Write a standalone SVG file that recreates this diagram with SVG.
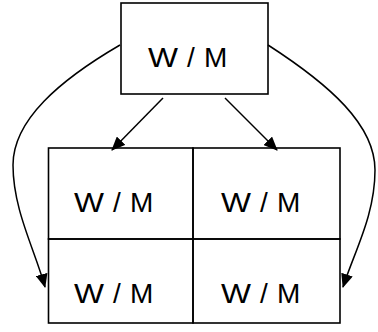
<svg xmlns="http://www.w3.org/2000/svg" width="378" height="332" viewBox="0 0 378 332">
<style>
.box{fill:none;stroke:#000;stroke-width:1.6}
.lbl{font-family:"Liberation Sans",Arial,sans-serif;font-size:28px;fill:#000}
.con{fill:none;stroke:#000;stroke-width:1.5}
</style>
<defs>
<marker id="ah" markerUnits="userSpaceOnUse" markerWidth="14" markerHeight="12" viewBox="0 0 14 12" refX="13" refY="6" orient="auto">
<path d="M0,0 L14,6 L0,12 Z" fill="#000"/>
</marker>
</defs>
<rect width="378" height="332" fill="#fff"/>
<g id="top">
<rect class="box" x="121" y="3" width="147" height="91"/>
<text class="lbl" y="67"><tspan x="148" textLength="30" lengthAdjust="spacingAndGlyphs">W</tspan><tspan x="187">/</tspan><tspan x="204">M</tspan></text>
</g>
<g id="cell-tl">
<rect class="box" x="48.5" y="148" width="144.5" height="91"/>
<text class="lbl" y="212"><tspan x="74" textLength="30" lengthAdjust="spacingAndGlyphs">W</tspan><tspan x="113">/</tspan><tspan x="130">M</tspan></text>
</g>
<g id="cell-tr">
<rect class="box" x="193" y="148" width="147" height="91"/>
<text class="lbl" y="212"><tspan x="221" textLength="30" lengthAdjust="spacingAndGlyphs">W</tspan><tspan x="260">/</tspan><tspan x="277">M</tspan></text>
</g>
<g id="cell-bl">
<rect class="box" x="48.5" y="239" width="144.5" height="84"/>
<text class="lbl" y="303"><tspan x="74" textLength="30" lengthAdjust="spacingAndGlyphs">W</tspan><tspan x="113">/</tspan><tspan x="130">M</tspan></text>
</g>
<g id="cell-br">
<rect class="box" x="193" y="239" width="147" height="84"/>
<text class="lbl" y="303"><tspan x="221" textLength="30" lengthAdjust="spacingAndGlyphs">W</tspan><tspan x="260">/</tspan><tspan x="277">M</tspan></text>
</g>
<g id="connectors">
<path class="con" marker-end="url(#ah)" d="M163,98 L112,150"/>
<path class="con" marker-end="url(#ah)" d="M225,98 L277,150"/>
<path class="con" marker-end="url(#ah)" d="M120,45 C60,80 13,120 13,165 C13,210 35,250 45,287"/>
<path class="con" marker-end="url(#ah)" d="M268,45 C330,85 375,125 375,170 C375,215 355,250 343,287"/>
</g>
</svg>
